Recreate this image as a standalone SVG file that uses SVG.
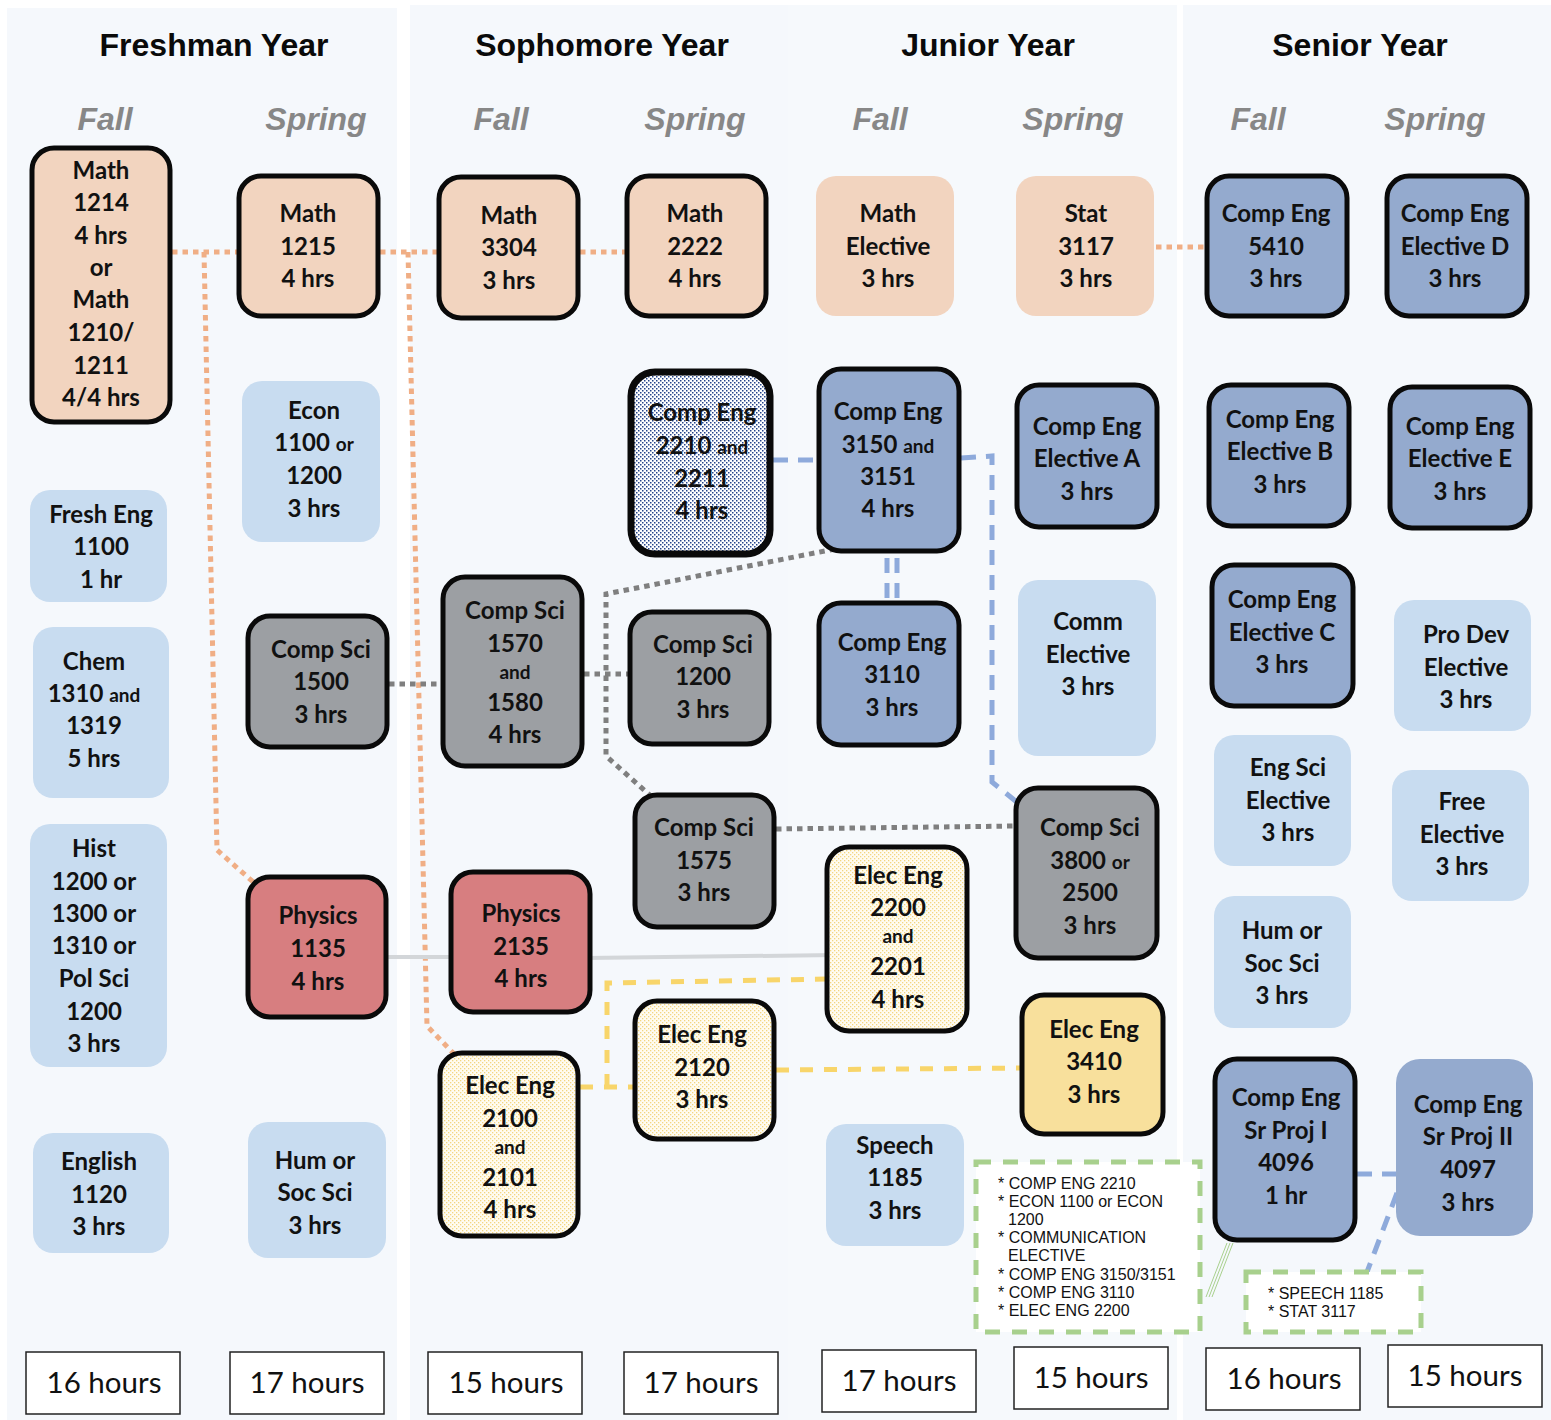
<svg xmlns="http://www.w3.org/2000/svg" width="1551" height="1420" viewBox="0 0 1551 1420">
<style>
.pan{fill:#f5f8fc}
.b{stroke:#0a0a0a;stroke-width:5}
.peach{fill:#f2d4bf}
.lb{fill:#c8dcf0}
.grey{fill:#9c9fa3}
.red{fill:#d77e80}
.blue{fill:#94aace}
.yel{fill:#f8e09c}
.t{font-family:Lato,"Open Sans",sans-serif;font-weight:700;font-size:24px;fill:#111;text-anchor:middle}
.s{font-size:19px}
.title{font-family:"Liberation Sans",Arial,sans-serif;font-weight:700;font-size:32px;fill:#0a0a0a;text-anchor:middle}
.sem{font-family:"Liberation Sans",Arial,sans-serif;font-weight:700;font-style:italic;font-size:32px;fill:#878787;text-anchor:middle}
.foot{fill:#fff;stroke:#222;stroke-width:1.5}
.ft{font-family:Lato,"Open Sans",sans-serif;font-size:29.5px;fill:#111;text-anchor:middle}
.note{fill:#fff;stroke:#a8d08d;stroke-width:5;stroke-dasharray:15 12}
.nt{font-family:"Liberation Sans",Arial,sans-serif;font-size:16px;fill:#111}
.or{fill:none;stroke:#f0ae85;stroke-width:5;stroke-dasharray:5.5 5}
.gr{fill:none;stroke:#7f7f7f;stroke-width:5;stroke-dasharray:5.5 5}
.bl{fill:none;stroke:#8eaadb;stroke-width:5;stroke-dasharray:15 10}
.ye{fill:none;stroke:#f8d56a;stroke-width:5;stroke-dasharray:13 11}
.ph{fill:none;stroke:#d3d6d9;stroke-width:4}
.gn{fill:none;stroke:#a8d08d;stroke-width:1}
</style>
<defs>
<pattern id="bdots" width="4" height="4" patternUnits="userSpaceOnUse">
<rect width="4" height="4" fill="#ffffff"/>
<rect x="0" y="0" width="1.5" height="1.5" fill="#25448a"/>
<rect x="2" y="2" width="1.5" height="1.5" fill="#25448a"/>
</pattern>
<pattern id="ydots" width="4" height="4" patternUnits="userSpaceOnUse">
<rect width="4" height="4" fill="#fffcf2"/>
<rect x="0" y="0" width="1.3" height="1.3" fill="#f3d680"/>
<rect x="2" y="2" width="1.3" height="1.3" fill="#f3d680"/>
</pattern>
</defs>
<rect width="1551" height="1420" fill="#ffffff"/>
<g id="panels">
<rect class="pan" x="7" y="8" width="390" height="1412"/>
<rect class="pan" x="410" y="5" width="378" height="1415"/>
<rect x="788" y="5" width="389" height="1415" fill="#f6f9fc"/>
<rect class="pan" x="1183" y="5" width="368" height="1415"/>
</g>
<g id="headers">
<text class="title" x="214" y="56">Freshman Year</text>
<text class="title" x="602" y="56">Sophomore Year</text>
<text class="title" x="988" y="56">Junior Year</text>
<text class="title" x="1360" y="56">Senior Year</text>
<text class="sem" x="105" y="130">Fall</text>
<text class="sem" x="316" y="130">Spring</text>
<text class="sem" x="501" y="130">Fall</text>
<text class="sem" x="695" y="130">Spring</text>
<text class="sem" x="880" y="130">Fall</text>
<text class="sem" x="1073" y="130">Spring</text>
<text class="sem" x="1258" y="130">Fall</text>
<text class="sem" x="1435" y="130">Spring</text>
</g>
<g id="connectors">
<path class="or" d="M172 252H239"/>
<path class="or" d="M204 252L217 850L260 888"/>
<path class="or" d="M380 252H439"/>
<path class="or" d="M408 252L427 1026L456 1056"/>
<path class="or" d="M580 252H627"/>
<path class="or" d="M1156 247H1207"/>
<path class="gr" d="M389 684H443"/>
<path class="gr" d="M584 674H630"/>
<path class="gr" d="M835 549L606 594V756L652 797"/>
<path class="gr" d="M776 829L1016 826"/>
<path class="bl" d="M773 460H819"/>
<path class="bl" d="M961 458L992 456V782L1018 803"/>
<path class="bl" d="M887 558V605M897 558V605"/>
<path class="bl" d="M1357 1174H1396"/>
<path class="bl" d="M1397 1193L1367 1272"/>
<path class="ph" d="M388 957H451"/>
<path class="ph" d="M586 958L836 955"/>
<path class="ye" d="M580 1087H635"/>
<path class="ye" d="M607 1087V983L826 979"/>
<path class="ye" d="M776 1070L1022 1068"/>
<path class="gn" d="M1227 1243L1206 1297M1230 1243L1209 1297M1233 1243L1212 1297"/>
</g>
<g id="math1214"><rect class="b peach" x="32" y="148" width="138" height="274" rx="22"/>
<text class="t" x="101"><tspan x="101" y="179">Math</tspan><tspan x="101" y="211">1214</tspan><tspan x="101" y="244">4 hrs</tspan><tspan x="101" y="276">or</tspan><tspan x="101" y="308">Math</tspan><tspan x="101" y="341">1210/</tspan><tspan x="101" y="374">1211</tspan><tspan x="101" y="406">4/4 hrs</tspan></text></g>
<g id="fresheng1100"><rect class="lb" x="30" y="490" width="137" height="112" rx="20"/>
<text class="t"><tspan x="101" y="523">Fresh Eng</tspan><tspan x="101" y="555">1100</tspan><tspan x="101" y="588">1 hr</tspan></text></g>
<g id="chem1310"><rect class="lb" x="33" y="627" width="136" height="171" rx="20"/>
<text class="t"><tspan x="94" y="670">Chem</tspan><tspan x="94" y="702">1310 <tspan class="s">and</tspan></tspan><tspan x="94" y="734">1319</tspan><tspan x="94" y="767">5 hrs</tspan></text></g>
<g id="hist"><rect class="lb" x="30" y="824" width="137" height="243" rx="20"/>
<text class="t"><tspan x="94" y="857">Hist</tspan><tspan x="94" y="890">1200 or</tspan><tspan x="94" y="922">1300 or</tspan><tspan x="94" y="954">1310 or</tspan><tspan x="94" y="987">Pol Sci</tspan><tspan x="94" y="1020">1200</tspan><tspan x="94" y="1052">3 hrs</tspan></text></g>
<g id="english1120"><rect class="lb" x="33" y="1133" width="136" height="120" rx="20"/>
<text class="t"><tspan x="99" y="1170">English</tspan><tspan x="99" y="1203">1120</tspan><tspan x="99" y="1235">3 hrs</tspan></text></g>
<g id="math1215"><rect class="b peach" x="239" y="176" width="139" height="140" rx="22"/>
<text class="t"><tspan x="308" y="222">Math</tspan><tspan x="308" y="255">1215</tspan><tspan x="308" y="287">4 hrs</tspan></text></g>
<g id="econ"><rect class="lb" x="242" y="381" width="138" height="161" rx="20"/>
<text class="t"><tspan x="314" y="419">Econ</tspan><tspan x="314" y="451">1100 <tspan class="s">or</tspan></tspan><tspan x="314" y="484">1200</tspan><tspan x="314" y="517">3 hrs</tspan></text></g>
<g id="compsci1500"><rect class="b grey" x="248" y="616" width="139" height="131" rx="22"/>
<text class="t"><tspan x="321" y="658">Comp Sci</tspan><tspan x="321" y="690">1500</tspan><tspan x="321" y="723">3 hrs</tspan></text></g>
<g id="physics1135"><rect class="b red" x="248" y="877" width="138" height="140" rx="22"/>
<text class="t"><tspan x="318" y="924">Physics</tspan><tspan x="318" y="957">1135</tspan><tspan x="318" y="990">4 hrs</tspan></text></g>
<g id="humsoc1"><rect class="lb" x="248" y="1122" width="138" height="136" rx="20"/>
<text class="t"><tspan x="315" y="1169">Hum or</tspan><tspan x="315" y="1201">Soc Sci</tspan><tspan x="315" y="1234">3 hrs</tspan></text></g>
<g id="math3304"><rect class="b peach" x="439" y="177" width="139" height="141" rx="22"/>
<text class="t"><tspan x="509" y="224">Math</tspan><tspan x="509" y="256">3304</tspan><tspan x="509" y="289">3 hrs</tspan></text></g>
<g id="compsci1570"><rect class="b grey" x="443" y="577" width="139" height="189" rx="22"/>
<text class="t"><tspan x="515" y="619">Comp Sci</tspan><tspan x="515" y="652">1570</tspan><tspan class="s" x="515" y="679">and</tspan><tspan x="515" y="711">1580</tspan><tspan x="515" y="743">4 hrs</tspan></text></g>
<g id="physics2135"><rect class="b red" x="451" y="872" width="139" height="140" rx="22"/>
<text class="t"><tspan x="521" y="922">Physics</tspan><tspan x="521" y="955">2135</tspan><tspan x="521" y="987">4 hrs</tspan></text></g>
<g id="eleceng2100"><rect class="b" fill="url(#ydots)" x="440" y="1053" width="138" height="183" rx="22"/>
<text class="t"><tspan x="510" y="1094">Elec Eng</tspan><tspan x="510" y="1127">2100</tspan><tspan class="s" x="510" y="1154">and</tspan><tspan x="510" y="1186">2101</tspan><tspan x="510" y="1218">4 hrs</tspan></text></g>
<g id="math2222"><rect class="b peach" x="627" y="176" width="139" height="140" rx="22"/>
<text class="t"><tspan x="695" y="222">Math</tspan><tspan x="695" y="255">2222</tspan><tspan x="695" y="287">4 hrs</tspan></text></g>
<g id="compeng2210"><rect stroke="#0a0a0a" stroke-width="7" fill="url(#bdots)" x="631" y="372" width="139" height="182" rx="24"/>
<text class="t"><tspan x="702" y="421">Comp Eng</tspan><tspan x="702" y="454">2210 <tspan class="s">and</tspan></tspan><tspan x="702" y="487">2211</tspan><tspan x="702" y="519">4 hrs</tspan></text></g>
<g id="compsci1200"><rect class="b grey" x="630" y="612" width="139" height="132" rx="22"/>
<text class="t"><tspan x="703" y="653">Comp Sci</tspan><tspan x="703" y="685">1200</tspan><tspan x="703" y="718">3 hrs</tspan></text></g>
<g id="compsci1575"><rect class="b grey" x="635" y="795" width="139" height="132" rx="22"/>
<text class="t"><tspan x="704" y="836">Comp Sci</tspan><tspan x="704" y="869">1575</tspan><tspan x="704" y="901">3 hrs</tspan></text></g>
<g id="eleceng2120"><rect class="b" fill="url(#ydots)" x="635" y="1001" width="139" height="138" rx="22"/>
<text class="t"><tspan x="702" y="1043">Elec Eng</tspan><tspan x="702" y="1076">2120</tspan><tspan x="702" y="1108">3 hrs</tspan></text></g>
<g id="mathelective"><rect class="peach" x="816" y="176" width="138" height="140" rx="20"/>
<text class="t"><tspan x="888" y="222">Math</tspan><tspan x="888" y="255">Elective</tspan><tspan x="888" y="287">3 hrs</tspan></text></g>
<g id="compeng3150"><rect class="b blue" x="819" y="369" width="140" height="182" rx="22"/>
<text class="t"><tspan x="888" y="420">Comp Eng</tspan><tspan x="888" y="453">3150 <tspan class="s">and</tspan></tspan><tspan x="888" y="485">3151</tspan><tspan x="888" y="517">4 hrs</tspan></text></g>
<g id="compeng3110"><rect class="b blue" x="819" y="603" width="140" height="142" rx="22"/>
<text class="t"><tspan x="892" y="651">Comp Eng</tspan><tspan x="892" y="683">3110</tspan><tspan x="892" y="716">3 hrs</tspan></text></g>
<g id="eleceng2200"><rect class="b" fill="url(#ydots)" x="827" y="847" width="140" height="184" rx="22"/>
<text class="t"><tspan x="898" y="884">Elec Eng</tspan><tspan x="898" y="916">2200</tspan><tspan class="s" x="898" y="943">and</tspan><tspan x="898" y="975">2201</tspan><tspan x="898" y="1008">4 hrs</tspan></text></g>
<g id="speech1185"><rect class="lb" x="826" y="1124" width="138" height="122" rx="20"/>
<text class="t"><tspan x="895" y="1154">Speech</tspan><tspan x="895" y="1186">1185</tspan><tspan x="895" y="1219">3 hrs</tspan></text></g>
<g id="stat3117"><rect class="peach" x="1016" y="176" width="138" height="140" rx="20"/>
<text class="t"><tspan x="1086" y="222">Stat</tspan><tspan x="1086" y="255">3117</tspan><tspan x="1086" y="287">3 hrs</tspan></text></g>
<g id="electiveA"><rect class="b blue" x="1017" y="385" width="140" height="142" rx="22"/>
<text class="t"><tspan x="1087" y="435">Comp Eng</tspan><tspan x="1087" y="467">Elective A</tspan><tspan x="1087" y="500">3 hrs</tspan></text></g>
<g id="commelective"><rect class="lb" x="1018" y="580" width="138" height="176" rx="20"/>
<text class="t"><tspan x="1088" y="630">Comm</tspan><tspan x="1088" y="663">Elective</tspan><tspan x="1088" y="695">3 hrs</tspan></text></g>
<g id="compsci3800"><rect class="b grey" x="1016" y="788" width="141" height="170" rx="22"/>
<text class="t"><tspan x="1090" y="836">Comp Sci</tspan><tspan x="1090" y="869">3800 <tspan class="s">or</tspan></tspan><tspan x="1090" y="901">2500</tspan><tspan x="1090" y="934">3 hrs</tspan></text></g>
<g id="eleceng3410"><rect class="b yel" x="1022" y="995" width="141" height="139" rx="22"/>
<text class="t"><tspan x="1094" y="1038">Elec Eng</tspan><tspan x="1094" y="1070">3410</tspan><tspan x="1094" y="1103">3 hrs</tspan></text></g>
<g id="compeng5410"><rect class="b blue" x="1207" y="176" width="140" height="140" rx="22"/>
<text class="t"><tspan x="1276" y="222">Comp Eng</tspan><tspan x="1276" y="255">5410</tspan><tspan x="1276" y="287">3 hrs</tspan></text></g>
<g id="electiveB"><rect class="b blue" x="1209" y="385" width="140" height="141" rx="22"/>
<text class="t"><tspan x="1280" y="428">Comp Eng</tspan><tspan x="1280" y="460">Elective B</tspan><tspan x="1280" y="493">3 hrs</tspan></text></g>
<g id="electiveC"><rect class="b blue" x="1212" y="565" width="141" height="141" rx="22"/>
<text class="t"><tspan x="1282" y="608">Comp Eng</tspan><tspan x="1282" y="641">Elective C</tspan><tspan x="1282" y="673">3 hrs</tspan></text></g>
<g id="engscielective"><rect class="lb" x="1214" y="735" width="137" height="131" rx="20"/>
<text class="t"><tspan x="1288" y="776">Eng Sci</tspan><tspan x="1288" y="809">Elective</tspan><tspan x="1288" y="841">3 hrs</tspan></text></g>
<g id="humsoc2"><rect class="lb" x="1214" y="896" width="137" height="132" rx="20"/>
<text class="t"><tspan x="1282" y="939">Hum or</tspan><tspan x="1282" y="972">Soc Sci</tspan><tspan x="1282" y="1004">3 hrs</tspan></text></g>
<g id="srproj1"><rect class="b blue" x="1215" y="1059" width="140" height="181" rx="22"/>
<text class="t"><tspan x="1286" y="1106">Comp Eng</tspan><tspan x="1286" y="1139">Sr Proj I</tspan><tspan x="1286" y="1171">4096</tspan><tspan x="1286" y="1204">1 hr</tspan></text></g>
<g id="electiveD"><rect class="b blue" x="1387" y="176" width="140" height="140" rx="22"/>
<text class="t"><tspan x="1455" y="222">Comp Eng</tspan><tspan x="1455" y="255">Elective D</tspan><tspan x="1455" y="287">3 hrs</tspan></text></g>
<g id="electiveE"><rect class="b blue" x="1390" y="387" width="140" height="141" rx="22"/>
<text class="t"><tspan x="1460" y="435">Comp Eng</tspan><tspan x="1460" y="467">Elective E</tspan><tspan x="1460" y="500">3 hrs</tspan></text></g>
<g id="prodevelective"><rect class="lb" x="1394" y="600" width="137" height="131" rx="20"/>
<text class="t"><tspan x="1466" y="643">Pro Dev</tspan><tspan x="1466" y="676">Elective</tspan><tspan x="1466" y="708">3 hrs</tspan></text></g>
<g id="freeelective"><rect class="lb" x="1392" y="770" width="137" height="131" rx="20"/>
<text class="t"><tspan x="1462" y="810">Free</tspan><tspan x="1462" y="843">Elective</tspan><tspan x="1462" y="875">3 hrs</tspan></text></g>
<g id="srproj2"><rect class="blue" x="1396" y="1059" width="137" height="177" rx="24"/>
<text class="t"><tspan x="1468" y="1113">Comp Eng</tspan><tspan x="1468" y="1145">Sr Proj II</tspan><tspan x="1468" y="1178">4097</tspan><tspan x="1468" y="1211">3 hrs</tspan></text></g>
<g id="note1"><rect class="note" x="976" y="1162" width="224" height="170"/>
<text class="nt"><tspan x="998" y="1189">* COMP ENG 2210</tspan><tspan x="998" y="1207">* ECON 1100 or ECON</tspan><tspan x="1008" y="1225">1200</tspan><tspan x="998" y="1243">* COMMUNICATION</tspan><tspan x="1008" y="1261">ELECTIVE</tspan><tspan x="998" y="1280">* COMP ENG 3150/3151</tspan><tspan x="998" y="1298">* COMP ENG 3110</tspan><tspan x="998" y="1316">* ELEC ENG 2200</tspan></text></g>
<g id="note2"><rect class="note" x="1246" y="1272" width="175" height="60"/>
<text class="nt"><tspan x="1268" y="1299">* SPEECH 1185</tspan><tspan x="1268" y="1317">* STAT 3117</tspan></text></g>
<g id="hours">
<rect class="foot" x="26" y="1352" width="154" height="62"/><text class="ft" x="104" y="1393">16 hours</text>
<rect class="foot" x="230" y="1352" width="154" height="62"/><text class="ft" x="307" y="1393">17 hours</text>
<rect class="foot" x="428" y="1352" width="154" height="62"/><text class="ft" x="506" y="1393">15 hours</text>
<rect class="foot" x="624" y="1352" width="154" height="62"/><text class="ft" x="701" y="1393">17 hours</text>
<rect class="foot" x="822" y="1350" width="154" height="62"/><text class="ft" x="899" y="1391">17 hours</text>
<rect class="foot" x="1014" y="1347" width="154" height="62"/><text class="ft" x="1091" y="1388">15 hours</text>
<rect class="foot" x="1206" y="1348" width="154" height="62"/><text class="ft" x="1284" y="1389">16 hours</text>
<rect class="foot" x="1388" y="1345" width="154" height="62"/><text class="ft" x="1465" y="1386">15 hours</text>
</g>
</svg>
